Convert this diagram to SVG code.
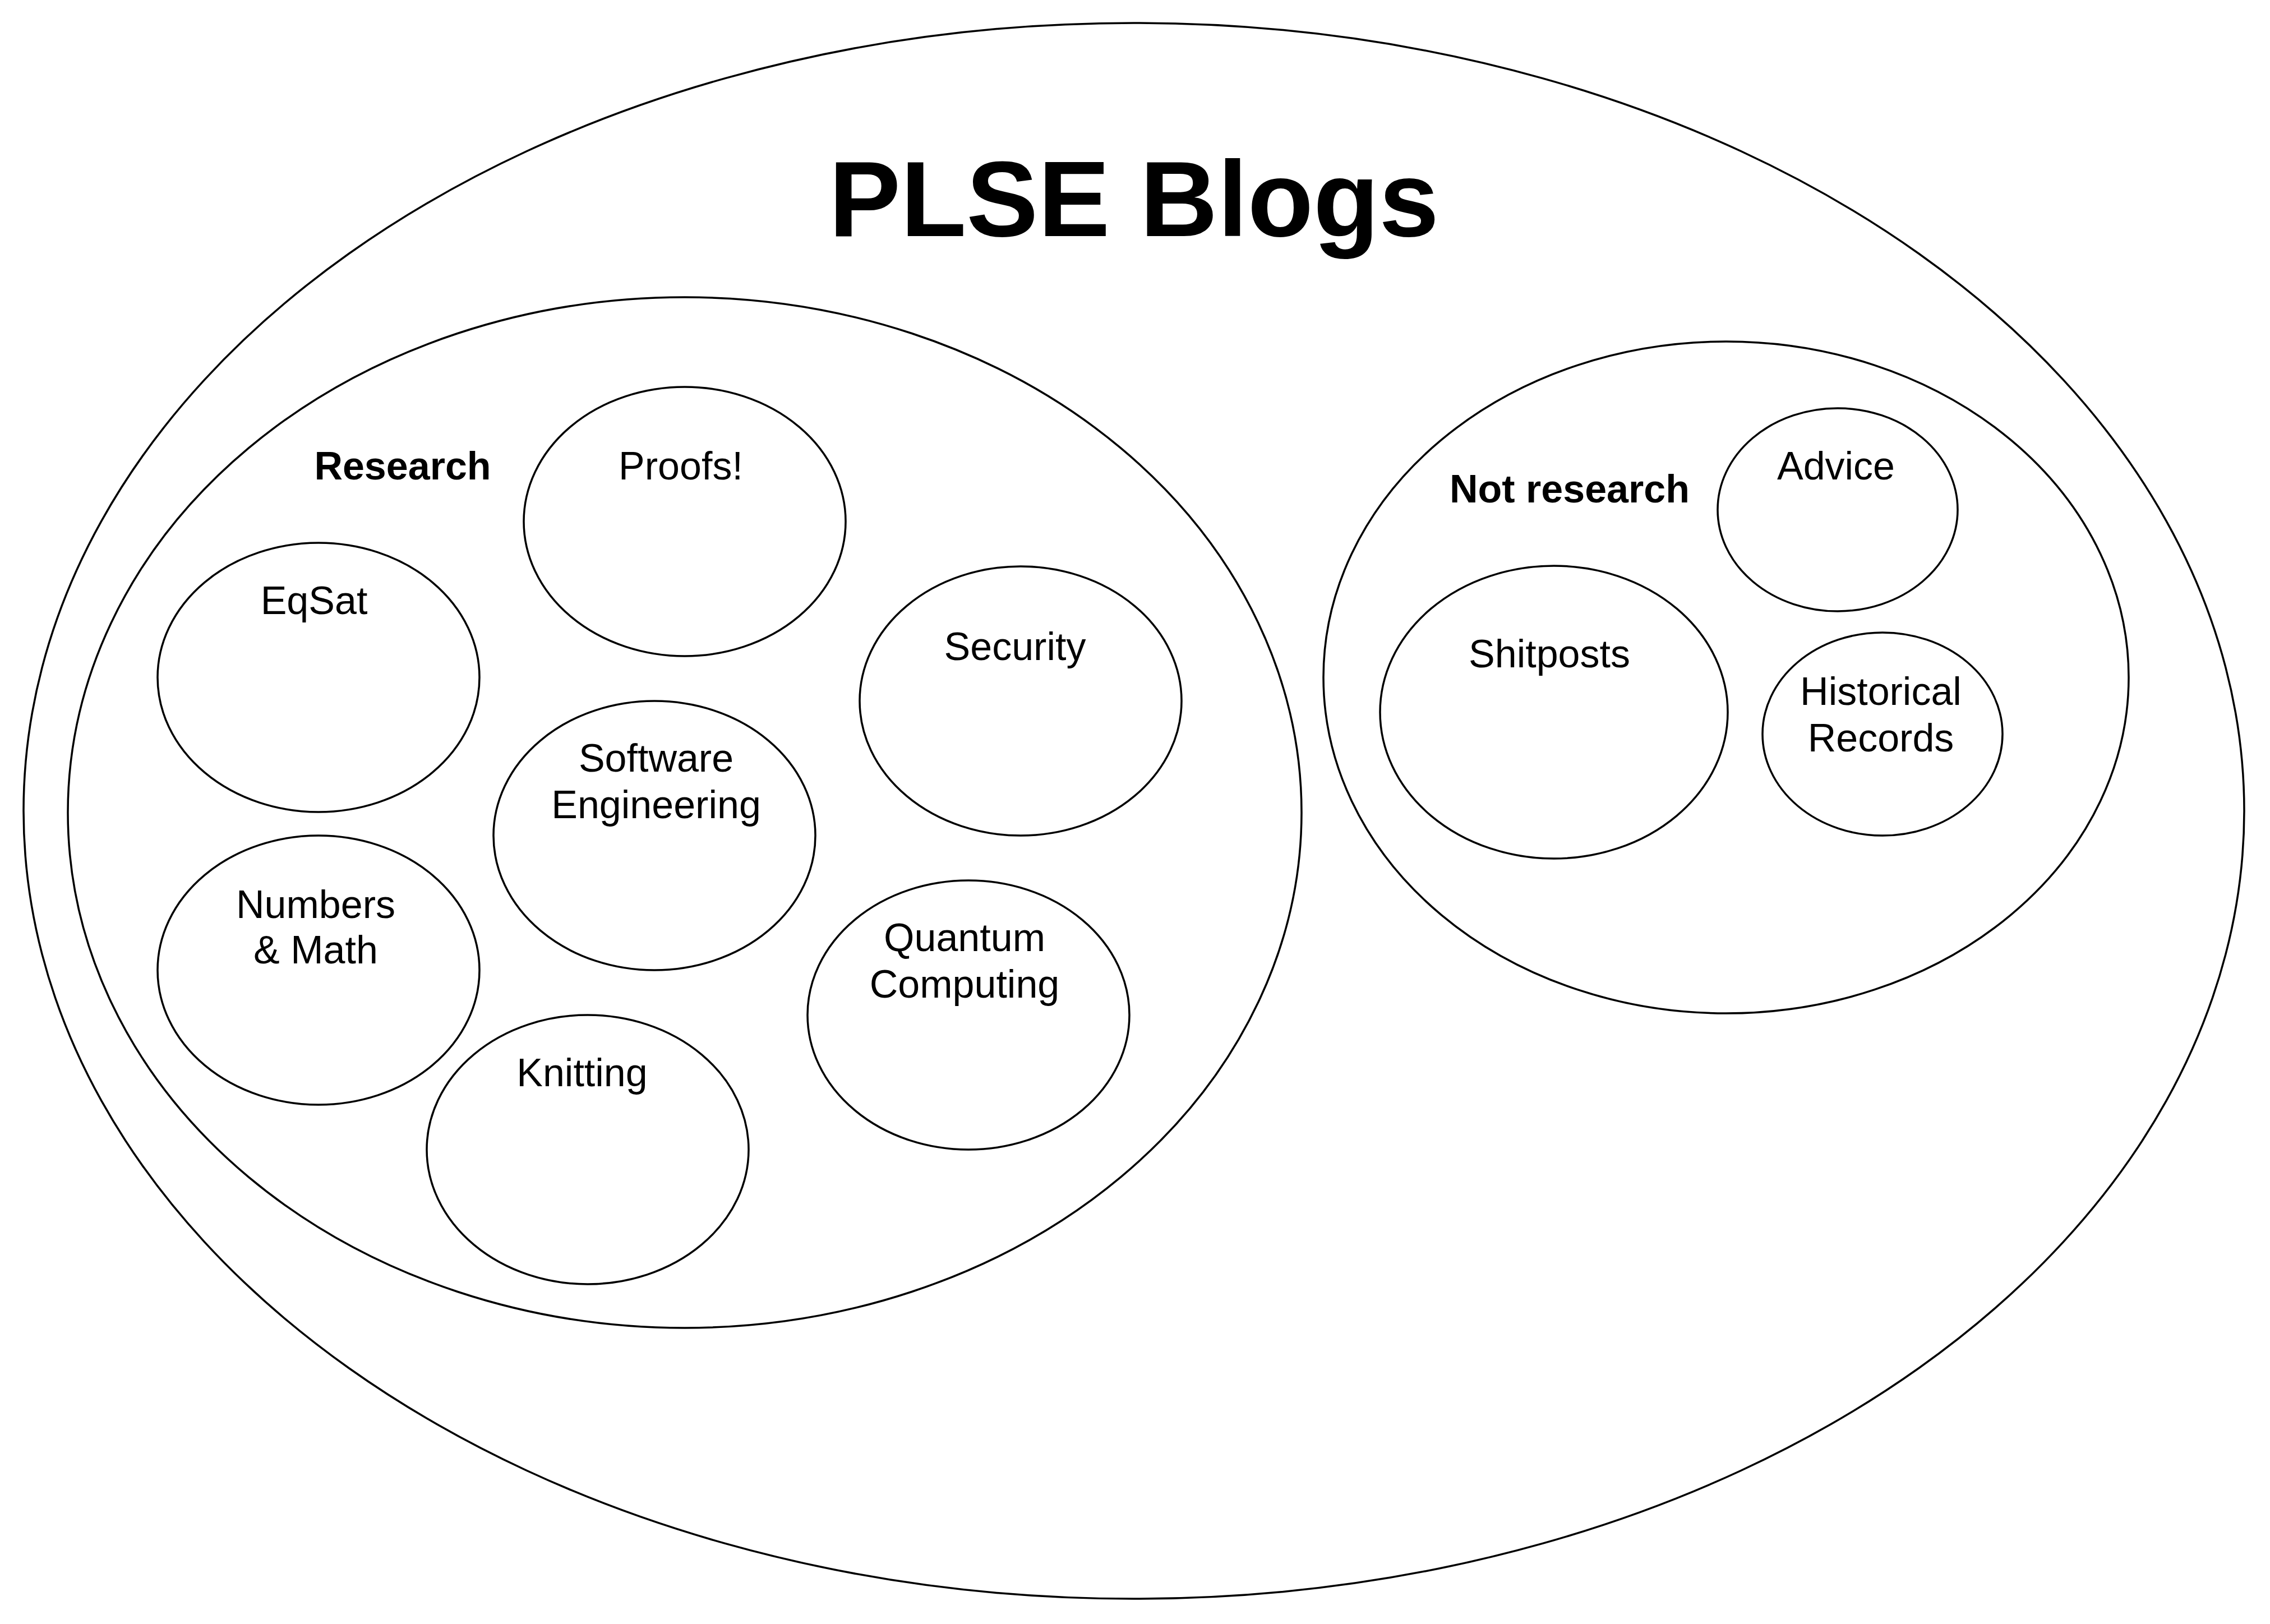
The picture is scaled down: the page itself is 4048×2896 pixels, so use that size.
<svg xmlns="http://www.w3.org/2000/svg" width="4048" height="2896" viewBox="0 0 4048 2896">
<style>
ellipse{fill:none;stroke:#000;stroke-width:3.5}
text{font-family:"Liberation Sans",Arial,sans-serif;font-size:70px;text-anchor:middle;fill:#000}
.b{font-weight:bold}
.t{font-size:192px}
</style>
<rect width="4048" height="2896" fill="#fff"/>
<g id="plse"><ellipse cx="2022" cy="1446" rx="1980" ry="1405"/><text class="b t" x="2022" y="421">PLSE Blogs</text></g>
<g id="research"><ellipse cx="1221" cy="1449" rx="1100" ry="919"/><text class="b" x="718" y="855">Research</text></g>
<g id="notresearch"><ellipse cx="3078" cy="1208" rx="718" ry="599"/><text class="b" x="2799" y="896">Not research</text></g>
<g id="proofs"><ellipse cx="1221" cy="930" rx="287" ry="240"/><text x="1214" y="855">Proofs!</text></g>
<g id="eqsat"><ellipse cx="568" cy="1208" rx="287" ry="240"/><text x="560" y="1095">EqSat</text></g>
<g id="security"><ellipse cx="1820" cy="1250" rx="287" ry="240"/><text x="1810" y="1177">Security</text></g>
<g id="se"><ellipse cx="1167" cy="1490" rx="287" ry="240"/><text x="1170" y="1376">Software</text><text x="1170" y="1459">Engineering</text></g>
<g id="numbers"><ellipse cx="568" cy="1730" rx="287" ry="240"/><text x="563" y="1637">Numbers</text><text x="563" y="1718">&amp; Math</text></g>
<g id="quantum"><ellipse cx="1727" cy="1810" rx="287" ry="240"/><text x="1720" y="1696">Quantum</text><text x="1720" y="1779">Computing</text></g>
<g id="knitting"><ellipse cx="1048" cy="2050" rx="287" ry="240"/><text x="1038" y="1937">Knitting</text></g>
<g id="advice"><ellipse cx="3277" cy="909" rx="214" ry="181"/><text x="3274" y="855">Advice</text></g>
<g id="shitposts"><ellipse cx="2771" cy="1270" rx="310" ry="261"/><text x="2763" y="1190">Shitposts</text></g>
<g id="historical"><ellipse cx="3357" cy="1309" rx="214" ry="181"/><text x="3354" y="1257">Historical</text><text x="3354" y="1340">Records</text></g>
<g id="connectors"/>
</svg>
